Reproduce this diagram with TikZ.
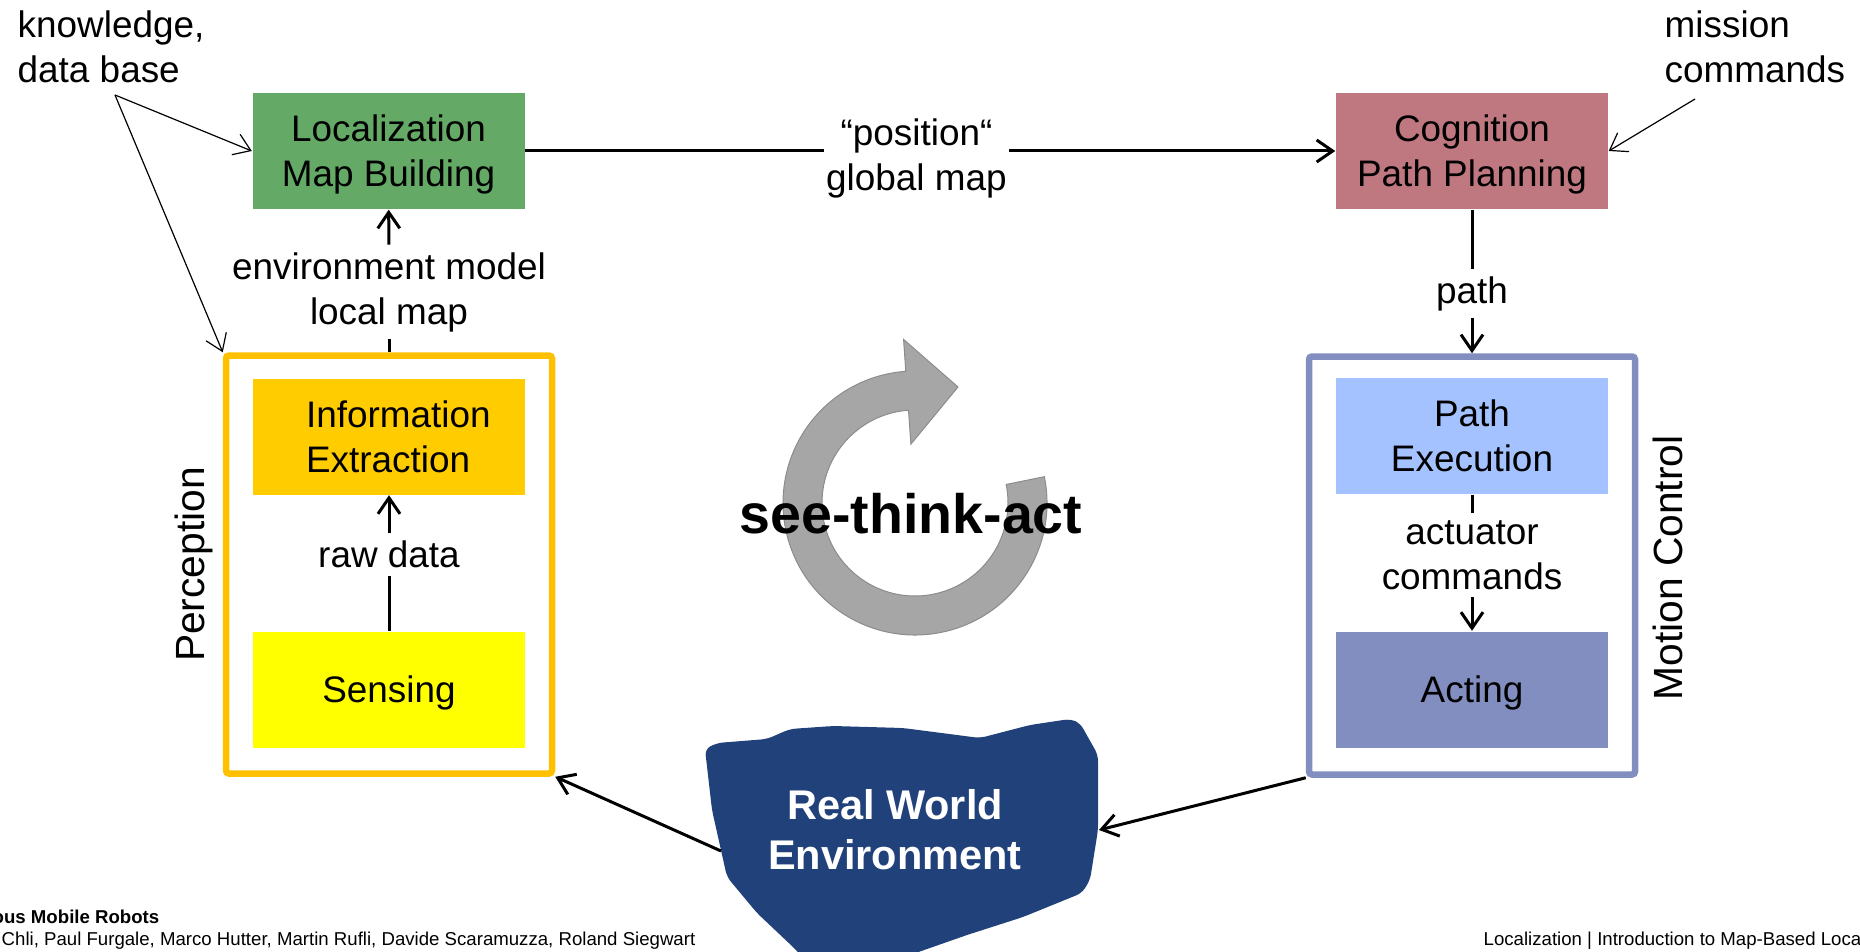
\documentclass[tikz,border=0pt]{standalone}
\usepackage{fontspec}
\setmainfont{Liberation Sans}
\usepackage{xcolor}
\usetikzlibrary{arrows.meta,calc}

\definecolor{locgreen}{RGB}{100,170,102}
\definecolor{cogrose}{RGB}{192,120,128}
\definecolor{percorange}{RGB}{255,192,0}
\definecolor{infogold}{RGB}{255,204,0}
\definecolor{senseyellow}{RGB}{255,255,0}
\definecolor{motionblue}{RGB}{130,142,192}
\definecolor{pathblue}{RGB}{164,194,255}
\definecolor{worldblue}{RGB}{33,65,122}
\definecolor{ringgray}{RGB}{166,166,166}

\newcommand{\blockfont}{\fontsize{10.5}{12.8}\selectfont}
\newcommand{\sidefont}{\fontsize{11.6}{14}\selectfont}
\newcommand{\worldfont}{\fontsize{11.8}{14.2}\selectfont\bfseries}
\newcommand{\loopfont}{\fontsize{15.8}{19}\selectfont\bfseries}
\newcommand{\footfont}{\fontsize{5.3}{6.4}\selectfont}

\tikzset{
  block/.style={minimum width=27.2mm, minimum height=11.6mm, inner sep=0pt, align=center, font=\blockfont},
  groupbox/.style={line width=0.65mm, rounded corners=0.3mm, minimum width=32.6mm, minimum height=41.8mm},
  flowlabel/.style={inner sep=0.7mm, align=center, font=\blockfont},
  conn/.style={line width=0.3mm},
  fine/.style={line width=0.12mm},
}

\begin{document}
\begin{tikzpicture}[x=0.1mm,y=-0.1mm,>={Straight Barb[length=1.6mm,width=2.2mm]}]
  \path[use as bounding box] (0,0) rectangle (1860,952);
  \clip (0,0) rectangle (1860,952);

  % perception and motion control groups
  \node[groupbox, draw=percorange] (perc) at (389,564.5) {};
  \node[groupbox, draw=motionblue] (motion) at (1472,565.5) {};
  \node[font=\sidefont, rotate=90] (perclbl) at (194,564.5) {Perception};
  \node[font=\sidefont, rotate=90] (motionlbl) at (1668,568) {Motion Control};

  % blocks
  \node[block, fill=locgreen, text depth=0pt] (loc) at (388.5,151) {Localization\\Map Building};
  \node[block, fill=cogrose, text depth=0pt] (cog) at (1472,151) {Cognition\\Path Planning};
  \node[block, fill=infogold, text width=16.6mm, align=left] (info) at (389,436.5) {Information\\Extraction};
  \node[block, fill=senseyellow, text depth=0pt] (sens) at (389,689.5) {Sensing};
  \node[block, fill=pathblue] (pexe) at (1472,436) {Path\\Execution};
  \node[block, fill=motionblue, text depth=0pt] (act) at (1472,689.5) {Acting};

  % labels on the flow
  \node[flowlabel] (envlbl) at (389,292) {environment model\\local map};
  \node[flowlabel] (rawlbl) at (389,554.5) {raw data};
  \node[flowlabel] (pathlbl) at (1472,293.5) {path};
  \node[flowlabel] (actlbl) at (1472,555) {actuator\\commands};
  \node[flowlabel, anchor=west, align=left, inner sep=0pt] (know) at (17,47) {knowledge,\\data base};
  \node[flowlabel, anchor=west, align=left, inner sep=0pt] (mission) at (1664,47) {mission\\commands};
  \coordinate (knowfoot) at (115,95);
  \coordinate (missionfoot) at (1695,99);

  % see-think-act loop
  \coordinate (rc) at (915,503);
  \filldraw[fill=ringgray, draw=black!45, line width=0.1mm]
    ($(rc)+(-11.5:132)$) arc[start angle=11.5, end angle=-266, radius=13.2mm]
    -- ($(rc)+(-94:164)$) -- (958,387) -- ($(rc)+(-94:59)$)
    -- ($(rc)+(-94:93)$) arc[start angle=-266, end angle=11.5, radius=9.3mm] -- cycle;
  \node[font=\loopfont, anchor=base] (loop) at (911,533) {see-think-act};

  % real world
  \fill[worldblue, rounded corners=0.6mm] (705,749) -- (717,743) -- (767,739) -- (790,729)
    -- (833,726) -- (903,728) -- (980,738) -- (1030,725) -- (1070,719) -- (1080,723)
    -- (1098,755) -- (1098,830) -- (1090,880) -- (1082,893) -- (1023,917) -- (967,935)
    -- (890,962) -- (850,980) -- (810,965) -- (793,947) -- (757,913) -- (727,877)
    -- (712,810) -- cycle;
  \node[font=\worldfont, text=white, align=center] (world) at (895,830) {Real World\\Environment};
  \coordinate (rwleft) at (721,851);
  \coordinate (rwright) at (1099,830);

  % connectors
  \draw[conn,->] (loc) -- node[pos=0.483, yshift=-0.75mm, fill=white, inner xsep=0.2mm, align=center, font=\blockfont] (poslbl) {“position“\\global map} (cog);
  \draw[conn] (perc) -- (envlbl);
  \draw[conn,->] (envlbl) -- (loc);
  \draw[conn] (sens) -- (rawlbl);
  \draw[conn,->] (rawlbl) -- (info);
  \draw[conn] (cog) -- (pathlbl);
  \draw[conn,->] (pathlbl) -- (motion);
  \draw[conn] (pexe) -- (actlbl);
  \draw[conn,->] (actlbl) -- (act);
  \draw[conn,->] (rwleft) -- (perc.south east);
  \draw[conn,->] (motion.south west) -- (rwright);
  \draw[fine,->] (knowfoot) -- (loc.west);
  \draw[fine,->] (knowfoot) -- (perc.north west);
  \draw[fine,->] (missionfoot) -- (cog.east);

  % footer
  \node[font=\footfont\bfseries, anchor=base east, inner sep=0pt] (course) at (160,923) {ous Mobile Robots};
  \node[font=\footfont, anchor=base west, inner sep=0pt] (authors) at (1,945) {Chli, Paul Furgale, Marco Hutter, Martin Rufli, Davide Scaramuzza, Roland Siegwart};
  \node[font=\footfont, anchor=base west, inner sep=0pt] (lecture) at (1483,945) {Localization | Introduction to Map-Based Loca};
\end{tikzpicture}
\end{document}
